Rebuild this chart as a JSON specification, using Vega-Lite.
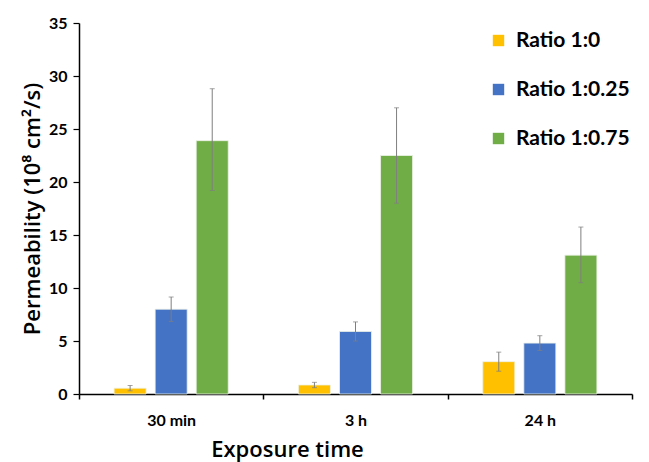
{
  "$schema": "https://vega.github.io/schema/vega-lite/v6.json",
  "width": 553,
  "height": 371,
  "autosize": "none",
  "padding": {"left": 79, "top": 23, "right": 17, "bottom": 68},
  "background": "white",
  "config": {"font": "Lato", "view": {"stroke": null}},
  "data": {
    "values": [
      {"time": "30 min", "ratio": "Ratio 1:0", "value": 0.55, "lo": 0.3, "hi": 0.8},
      {"time": "30 min", "ratio": "Ratio 1:0.25", "value": 8.0, "lo": 6.85, "hi": 9.15},
      {"time": "30 min", "ratio": "Ratio 1:0.75", "value": 23.9, "lo": 19.2, "hi": 28.8},
      {"time": "3 h", "ratio": "Ratio 1:0", "value": 0.85, "lo": 0.6, "hi": 1.1},
      {"time": "3 h", "ratio": "Ratio 1:0.25", "value": 5.9, "lo": 5.0, "hi": 6.8},
      {"time": "3 h", "ratio": "Ratio 1:0.75", "value": 22.5, "lo": 18.0, "hi": 27.0},
      {"time": "24 h", "ratio": "Ratio 1:0", "value": 3.05, "lo": 2.15, "hi": 3.95},
      {"time": "24 h", "ratio": "Ratio 1:0.25", "value": 4.8, "lo": 4.1, "hi": 5.5},
      {"time": "24 h", "ratio": "Ratio 1:0.75", "value": 13.1, "lo": 10.5, "hi": 15.75}
    ]
  },
  "encoding": {
    "x": {
      "field": "time", "type": "nominal", "sort": ["30 min", "3 h", "24 h"],
      "scale": {"paddingInner": 0, "paddingOuter": 0},
      "axis": {
        "title": "Exposure time", "titleFont": "Open Sans", "titleFontSize": 22, "titleFontWeight": 600, "titleColor": "black",
        "titlePadding": 11, "titleX": 208,
        "labelAngle": 0, "labelFontSize": 16, "labelFontWeight": "bold", "labelColor": "black", "labelPadding": 13,
        "tickBand": "extent", "tickSize": 5, "tickColor": "black", "tickWidth": 1.5,
        "domainColor": "black", "domainWidth": 1.5, "grid": false
      }
    },
    "xOffset": {
      "field": "ratio", "type": "nominal",
      "scale": {"paddingInner": 0.22, "paddingOuter": 0.855}
    }
  },
  "layer": [
    {
      "mark": {"type": "bar", "stroke": "#eef3e8", "strokeWidth": 0.8},
      "encoding": {
        "y": {
          "field": "value", "type": "quantitative",
          "scale": {"domain": [0, 35], "nice": false},
          "axis": {
            "title": "Permeability (10⁸ cm²/s)", "titleFont": "Open Sans", "titleFontSize": 22, "titleFontWeight": 600, "titleColor": "black",
            "titlePadding": 4,
            "values": [0, 2.5, 5, 7.5, 10, 12.5, 15, 17.5, 20, 22.5, 25, 27.5, 30, 32.5, 35],
            "labelExpr": "datum.value % 5 == 0 ? datum.label : ''",
            "labelFontSize": 16, "labelFontWeight": "bold", "labelColor": "black", "labelPadding": 6,
            "tickSize": 6, "tickColor": "black", "tickWidth": 1.2,
            "domainColor": "black", "domainWidth": 1.5, "grid": false
          }
        },
        "color": {
          "field": "ratio", "type": "nominal",
          "scale": {"domain": ["Ratio 1:0", "Ratio 1:0.25", "Ratio 1:0.75"], "range": ["#FFC000", "#4472C4", "#70AD47"]},
          "legend": {
            "title": null, "orient": "none", "legendX": 409, "legendY": 7,
            "symbolType": "square", "symbolSize": 130, "symbolStrokeWidth": 0,
            "labelFontSize": 21, "labelFontWeight": "bold", "labelColor": "black",
            "rowPadding": 27, "labelOffset": 7
          }
        }
      }
    },
    {
      "mark": {"type": "rule", "color": "#7f7f7f", "strokeWidth": 1},
      "encoding": {
        "y": {"field": "lo", "type": "quantitative"},
        "y2": {"field": "hi"}
      }
    },
    {
      "mark": {"type": "tick", "color": "#7f7f7f", "thickness": 1, "size": 5, "orient": "horizontal"},
      "encoding": {"y": {"field": "lo", "type": "quantitative"}}
    },
    {
      "mark": {"type": "tick", "color": "#7f7f7f", "thickness": 1, "size": 5, "orient": "horizontal"},
      "encoding": {"y": {"field": "hi", "type": "quantitative"}}
    }
  ]
}
